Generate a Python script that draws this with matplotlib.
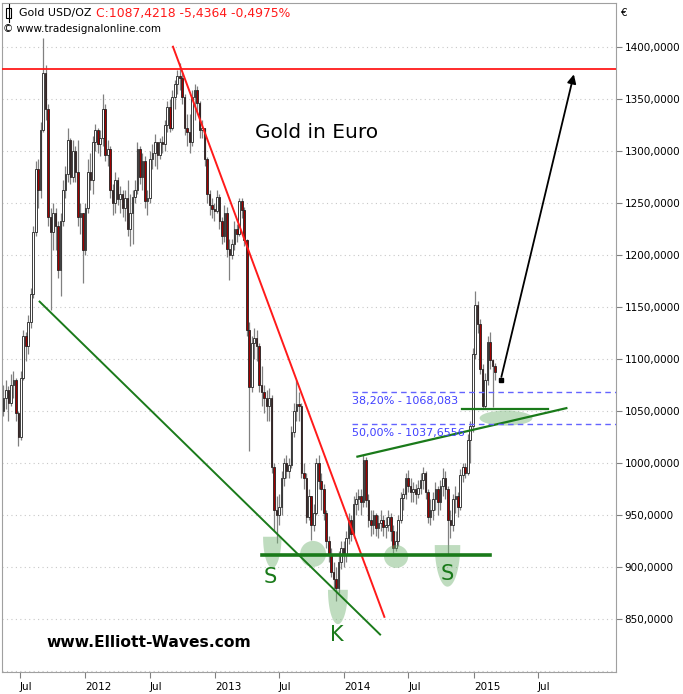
import numpy as np
import pandas as pd
import matplotlib
matplotlib.use("Agg")
import matplotlib.pyplot as plt
import matplotlib.dates as mdates
from matplotlib.patches import Ellipse, Polygon, Rectangle
from matplotlib.lines import Line2D

# --- weekly candles, Gold in EUR ---
first_open = 1050
closes = [
    1062, 1070, 1058, 1075, 1080, 1048, 1025, 1082, 1122, 1112, 1135, 1162, 1222, 1282, 1262, 1320,
    1375, 1340, 1236, 1222, 1240, 1228, 1185, 1232, 1262, 1278, 1310, 1275, 1300, 1280, 1236, 1240,
    1205, 1245, 1280, 1272, 1308, 1320, 1306, 1312, 1340, 1296, 1302, 1262, 1250, 1272, 1254, 1258,
    1245, 1255, 1225, 1240, 1256, 1262, 1302, 1275, 1290, 1252, 1255, 1292, 1298, 1308, 1296, 1308,
    1306, 1325, 1342, 1322, 1352, 1364, 1372, 1370, 1352, 1322, 1318, 1308, 1352, 1358, 1346, 1320,
    1322, 1292, 1258, 1248, 1244, 1242, 1256, 1232, 1218, 1240, 1206, 1200, 1210, 1225, 1220, 1252,
    1243, 1214, 1128, 1073, 1115, 1120, 1112, 1075, 1068, 1062, 1055, 1062, 996, 955, 950, 958,
    985, 1000, 992, 998, 1030, 1050, 1057, 1055, 990, 985, 948, 968, 940, 952, 1000, 983,
    975, 952, 925, 912, 895, 888, 880, 905, 918, 912, 928, 945, 932, 960, 965, 968,
    962, 1003, 964, 945, 940, 950, 937, 942, 945, 938, 940, 948, 935, 918, 925, 945,
    966, 970, 985, 978, 972, 975, 970, 976, 984, 990, 972, 948, 955, 965, 975, 962,
    978, 985, 975, 945, 940, 965, 968, 958, 988, 996, 990, 1022, 1035, 1105, 1152, 1133,
    1090, 1055, 1080, 1116, 1099, 1093, 1087,
]
highs = [
    1075, 1080, 1074, 1085, 1088, 1082, 1050, 1088, 1128, 1126, 1142, 1168, 1228, 1290, 1292, 1328,
    1408, 1382, 1345, 1245, 1250, 1245, 1232, 1240, 1272, 1285, 1322, 1312, 1310, 1305, 1310, 1250,
    1240, 1250, 1292, 1298, 1314, 1326, 1322, 1320, 1355, 1345, 1310, 1305, 1268, 1280, 1275, 1266,
    1262, 1262, 1272, 1258, 1262, 1272, 1308, 1305, 1298, 1295, 1262, 1300, 1306, 1316, 1308, 1312,
    1314, 1330, 1348, 1350, 1358, 1368, 1378, 1384, 1375, 1355, 1335, 1335, 1358, 1364, 1362, 1348,
    1330, 1312, 1294, 1262, 1255, 1250, 1262, 1258, 1236, 1248, 1246, 1215, 1215, 1232, 1230, 1255,
    1255, 1246, 1215, 1135, 1122, 1130, 1128, 1115, 1093, 1075, 1070, 1072, 1065, 1000, 968, 970,
    992, 1005, 1008, 1005, 1035, 1058, 1080, 1068, 1058, 1000, 990, 975, 968, 960, 1005, 1008,
    990, 980, 955, 930, 918, 905, 900, 915, 925, 925, 935, 952, 950, 968, 972, 975,
    975, 1008, 1006, 970, 955, 955, 952, 950, 955, 950, 948, 955, 952, 940, 935, 950,
    972, 976, 990, 993, 985, 982, 980, 984, 990, 996, 992, 975, 965, 972, 982, 978,
    984, 995, 992, 978, 955, 970, 978, 972, 994, 1000, 1000, 1028, 1040, 1110, 1165, 1156,
    1138, 1095, 1086, 1122, 1126, 1100, 1096,
]
lows = [
    1045, 1052, 1040, 1055, 1062, 1040, 1016, 1022, 1080, 1098, 1105, 1130, 1158, 1218, 1245, 1255,
    1318, 1330, 1228, 1147, 1205, 1205, 1178, 1160, 1228, 1255, 1270, 1268, 1270, 1270, 1228, 1220,
    1173, 1200, 1240, 1262, 1258, 1300, 1298, 1295, 1305, 1290, 1285, 1255, 1238, 1240, 1248, 1240,
    1236, 1232, 1218, 1208, 1210, 1250, 1258, 1268, 1262, 1245, 1238, 1250, 1282, 1285, 1282, 1292,
    1298, 1300, 1318, 1318, 1320, 1340, 1355, 1358, 1345, 1315, 1305, 1298, 1305, 1330, 1338, 1312,
    1312, 1285, 1250, 1238, 1235, 1232, 1240, 1225, 1210, 1212, 1198, 1176, 1196, 1205, 1212, 1218,
    1235, 1208, 1122, 1011, 1068, 1100, 1098, 1068, 1055, 1048, 1040, 1040, 990, 935, 923, 940,
    950, 978, 985, 985, 995, 1025, 1040, 1040, 985, 975, 942, 945, 926, 935, 950, 975,
    955, 945, 918, 905, 890, 878, 867, 875, 898, 900, 905, 922, 925, 928, 950, 955,
    950, 958, 958, 938, 930, 932, 930, 928, 935, 930, 928, 935, 925, 913, 915, 920,
    942, 955, 965, 972, 962, 962, 960, 966, 970, 975, 965, 942, 940, 945, 955, 950,
    955, 968, 965, 912, 928, 935, 952, 948, 955, 982, 985, 988, 1000, 1030, 1100, 1125,
    1085, 1052, 1052, 1075, 1090, 1054, 1080,
]
week_dates = pd.date_range("2011-05-16", periods=len(closes), freq="7D")

# levels and drawn lines (date, price)
resistance = 1379
fib_382 = 1068.083
fib_500 = 1037.6556
fib_start = "2014-01-22"
red_trend = [("2012-09-05", 1400), ("2014-04-24", 852)]
green_trend_low = [("2011-08-26", 1155), ("2014-04-12", 835)]
neckline = [("2013-05-13", 911), ("2015-02-15", 911)]
green_trend_up = [("2014-02-07", 1006), ("2015-09-19", 1052.6)]
green_short = [("2014-11-30", 1052), ("2015-07-29", 1052)]
arrow_path = [("2015-03-18", 1080), ("2015-10-12", 1376)]

# shaded marks: (center date, top price, half width days, depth price)
cups = [("2013-06-12", 929, 26, 30), ("2013-12-14", 878, 28, 33), ("2014-10-19", 921, 36, 40)]
# full ellipses: (center date, center price, width days, height price)
blobs = [("2013-10-05", 912.5, 73, 25), ("2014-05-27", 910, 68, 22), ("2015-04-02", 1043, 149, 14.5)]
letters = [("S", "2013-06-05", 890), ("K", "2013-12-11", 835), ("S", "2014-10-19", 893)]

y_ticks = list(range(850, 1401, 50))
x_tick_dates = ["2011-07-01", "2012-01-01", "2012-07-01", "2013-01-01", "2013-07-01",
                "2014-01-01", "2014-07-01", "2015-01-01", "2015-07-01"]
x_tick_labels = ["Jul", "2012", "Jul", "2013", "Jul", "2014", "Jul", "2015", "Jul"]


def d(s):
    return mdates.date2num(pd.Timestamp(s))


fig = plt.figure(figsize=(6.83, 6.94), dpi=100)
ax = fig.add_axes([2 / 683, 1 - 672 / 694, 614 / 683, 669 / 694])

# --- candles ---
x = mdates.date2num(week_dates)
c = np.array(closes, dtype=float)
o = np.concatenate([[first_open], c[:-1]])
h = np.maximum(np.array(highs, dtype=float), np.maximum(o, c))
l = np.minimum(np.array(lows, dtype=float), np.minimum(o, c))
up = c >= o
ax.vlines(x, l, h, color="#808080", lw=0.9, zorder=2)
body_bottom = np.minimum(o, c)
body_h = np.maximum(np.abs(c - o), 0.8)
ax.bar(x[up], body_h[up], bottom=body_bottom[up], width=4.6, color="white",
       edgecolor="#222222", linewidth=0.6, zorder=3)
ax.bar(x[~up], body_h[~up], bottom=body_bottom[~up], width=4.6, color="#a00000",
       edgecolor="#222222", linewidth=0.6, zorder=3)

# --- annotations ---
ax.axhline(resistance, color="#ff1a1a", lw=1.3, zorder=4)


def seg(pts, **kw):
    ax.plot([d(p[0]) for p in pts], [p[1] for p in pts], **kw)


seg(red_trend, color="#ff1a1a", lw=1.4, zorder=4)
seg(green_trend_low, color="#1a7a1a", lw=1.4, zorder=4)
seg(neckline, color="#1a7a1a", lw=2.6, zorder=4)
seg(green_trend_up, color="#1a7a1a", lw=1.6, zorder=4)
seg(green_short, color="#1a7a1a", lw=1.6, zorder=4)

for lvl in (fib_382, fib_500):
    ax.plot([d(fib_start), d("2016-03-01")], [lvl, lvl], color="#6464ff", lw=1.0,
            dashes=(4, 3), zorder=4)
ax.text(d(fib_start) + 2, fib_382 - 4, "38,20% - 1068,083", color="#4040ff",
        fontsize=8, va="top", ha="left", zorder=5)
ax.text(d(fib_start) + 2, fib_500 - 4, "50,00% - 1037,6556", color="#4040ff",
        fontsize=8, va="top", ha="left", zorder=5)

green_fill = (0.45, 0.70, 0.45)
t = np.linspace(np.pi, 2 * np.pi, 40)
for cd, top, hw, depth in cups:
    cx = d(cd)
    pts = np.column_stack([cx + hw * np.cos(t), top + depth * np.sin(t)])
    ax.add_patch(Polygon(pts, closed=True, facecolor=green_fill, edgecolor="none",
                         alpha=0.45, zorder=3.5))
for cd, cp, w, hh in blobs:
    ax.add_patch(Ellipse((d(cd), cp), w, hh, facecolor=green_fill, edgecolor="none",
                         alpha=0.45, zorder=3.5))
for s, cd, p in letters:
    ax.text(d(cd), p, s, color="#1a7a1a", fontsize=15, ha="center", va="center", zorder=6)

ax.annotate("", xy=(d(arrow_path[1][0]), arrow_path[1][1]),
            xytext=(d(arrow_path[0][0]), arrow_path[0][1]),
            arrowprops=dict(arrowstyle="-|>", color="black", lw=1.3, mutation_scale=13),
            zorder=6)
ax.plot([d(arrow_path[0][0])], [arrow_path[0][1]], marker="s", ms=2.5, color="black", zorder=6)

ax.text(d("2013-10-16"), 1318, "Gold in Euro", fontsize=14.5, ha="center", va="center")
ax.text(0.073, 0.044, "www.Elliott-Waves.com", transform=ax.transAxes, fontsize=11.2,
        fontweight="bold", ha="left", va="center")

# --- axes styling ---
ax.set_xlim(d("2011-05-12"), d("2016-02-06"))
ax.set_ylim(799, 1442)
ax.yaxis.tick_right()
ax.set_yticks(y_ticks)
ax.set_yticklabels([f"{v:.4f}".replace(".", ",") for v in y_ticks], fontsize=7.5)
ax.set_xticks([d(s) for s in x_tick_dates])
ax.set_xticklabels(x_tick_labels, fontsize=7.5, ha="left")
ax.tick_params(axis="x", length=4, color="#808080", pad=3)
ax.tick_params(axis="y", length=4, color="#808080", pad=2)
for sp in ax.spines.values():
    sp.set_color("#a0a0a0")
for v in y_ticks + [800]:
    ax.axhline(v, color="#c8c8c8", lw=0.8, ls=(0, (1, 3)), zorder=1)

# header
fig.add_artist(Line2D([8.5 / 683, 8.5 / 683], [1 - 4 / 694, 1 - 22 / 694], color="black", lw=0.8))
fig.add_artist(Rectangle((6 / 683, 1 - 18 / 694), 5 / 683, 10 / 694, facecolor="white",
                         edgecolor="black", lw=0.8))
fig.text(19 / 683, 1 - 13 / 694, "Gold USD/OZ", fontsize=7.9, va="center", ha="left")
fig.text(96 / 683, 1 - 13 / 694, "C:1087,4218 -5,4364 -0,4975%", fontsize=8.9,
         va="center", ha="left", color="#ff1a1a")
fig.text(3 / 683, 1 - 29 / 694, "\u00a9 www.tradesignalonline.com", fontsize=7.5,
         va="center", ha="left")
fig.text(621 / 683, 1 - 13 / 694, "\u20ac", fontsize=7.5, va="center", ha="left")

fig.savefig("out.png", dpi=100)
